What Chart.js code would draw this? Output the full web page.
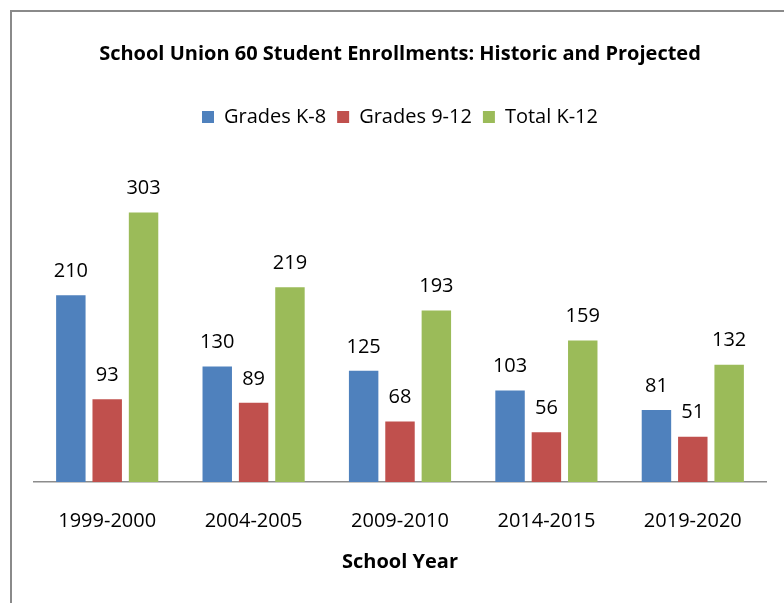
<!DOCTYPE html>
<html>
<head>
<meta charset="utf-8">
<script src="https://cdn.jsdelivr.net/npm/chart.js@4"></script>
<style>
  html, body { margin: 0; padding: 0; background: #fff; }
  #wrap { position: relative; width: 784px; height: 603px; }
  #frame { position: absolute; left: 10px; top: 10px; right: -4px; bottom: -4px; border: 2px solid #8a8a8a; }
  canvas { position: absolute; left: 0; top: 0; }
</style>
</head>
<body>
<div id="wrap">
  <div id="frame"></div>
  <canvas id="enrollChart" width="784" height="603"></canvas>
</div>
<script>
const schoolYears = ['1999-2000', '2004-2005', '2009-2010', '2014-2015', '2019-2020']
const gradesK8 = [210, 130, 125, 103, 81]
const grades912 = [93, 89, 68, 56, 51]
const totalK12 = [303, 219, 193, 159, 132]

const FONT = '"Open Sans", sans-serif'

// value labels above each bar
const barLabels = {
  id: 'barLabels',
  afterDatasetsDraw(chart) {
    const ctx = chart.ctx
    ctx.save()
    ctx.font = '20px ' + FONT
    ctx.fillStyle = '#000'
    ctx.textAlign = 'center'
    ctx.textBaseline = 'bottom'
    chart.data.datasets.forEach((ds, i) => {
      chart.getDatasetMeta(i).data.forEach((bar, j) => {
        ctx.fillText(ds.data[j], bar.x, bar.y - 14)
      })
    })
    ctx.restore()
  }
}

var ctx = document.getElementById('enrollChart')
new Chart(ctx, {
  type: 'bar',
  data: {
    labels: schoolYears,
    datasets: [{
      label: 'Grades K-8',
      data: gradesK8,
      backgroundColor: '#4F81BD'
    }, {
      label: 'Grades 9-12',
      data: grades912,
      backgroundColor: '#C0504D'
    }, {
      label: 'Total K-12',
      data: totalK12,
      backgroundColor: '#9BBB59'
    }]
  },
  options: {
    responsive: false,
    animation: false,
    categoryPercentage: 0.745,
    barPercentage: 0.81,
    layout: { padding: { top: 0, left: 34, right: 18, bottom: 25 } },
    plugins: {
      title: {
        display: true,
        text: 'School Union 60 Student Enrollments: Historic and Projected',
        color: '#000',
        font: { family: FONT, size: 20, weight: 'bold' },
        padding: { top: 42, bottom: 30 }
      },
      legend: {
        position: 'top',
        labels: {
          color: '#000',
          font: { family: FONT, size: 20 },
          boxWidth: 12,
          boxHeight: 12,
          padding: 11
        }
      },
      tooltip: { enabled: false }
    },
    scales: {
      x: {
        grid: { display: false, drawTicks: false },
        border: { display: true, color: '#8c8c8c', width: 1.5 },
        ticks: { color: '#000', font: { family: FONT, size: 20 }, padding: 27, maxRotation: 0 },
        title: {
          display: true,
          text: 'School Year',
          color: '#000',
          font: { family: FONT, size: 20, weight: 'bold' },
          padding: { top: -10, bottom: 4 }
        }
      },
      y: {
        display: false,
        min: 0,
        max: 388
      }
    }
  },
  plugins: [barLabels]
})
</script>
</body>
</html>
